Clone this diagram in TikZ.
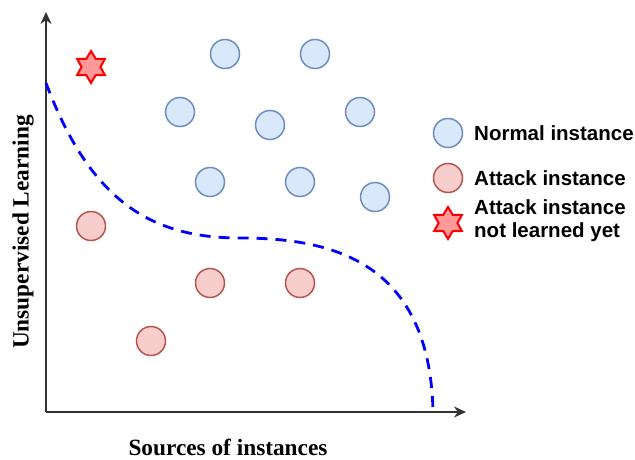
\documentclass[tikz,border=0pt]{standalone}
\usepackage{fontspec}
\setmainfont{Liberation Serif}
\newfontfamily\legfont{Liberation Sans}
\usetikzlibrary{shapes.geometric,arrows.meta}
\definecolor{nfill}{HTML}{DAE8FC}
\definecolor{nline}{HTML}{6C8EBF}
\definecolor{afill}{HTML}{F8CECC}
\definecolor{aline}{HTML}{B85450}
\definecolor{sfill}{HTML}{FF9999}
\definecolor{sline}{HTML}{FF0000}
\definecolor{axcol}{HTML}{333333}
\tikzset{
  normal/.style={circle,draw=nline,fill=nfill,line width=1.5pt,minimum size=29pt,inner sep=0pt},
  attack/.style={circle,draw=aline,fill=afill,line width=1.5pt,minimum size=29pt,inner sep=0pt},
  newattack/.style={star,star points=6,star point ratio=1.7,draw=sline,fill=sfill,line width=2pt,minimum size=32pt,inner sep=0pt},
  axisline/.style={draw=axcol,line width=1.8pt,-{Stealth[length=12pt,width=11pt]}},
  legtext/.style={font=\legfont\bfseries\fontsize{20.5}{23}\selectfont,anchor=west,align=left,inner sep=0pt},
  axlabel/.style={font=\bfseries\fontsize{23.3}{26}\selectfont,inner sep=0pt},
  boundary/.style={draw=blue,line width=2.8pt,dash pattern=on 11pt off 8pt}
}
\begin{document}
\begin{tikzpicture}[x=1pt,y=-1pt]
\useasboundingbox (0,0) rectangle (635,460);
\coordinate (O) at (46,412);
\coordinate (ytop) at (46,12);
\coordinate (xend) at (466,412);
\draw[axisline] (O) -- (ytop);
\draw[axisline] (O) -- (xend);
% boundary
\coordinate (b0) at (46,83);
\coordinate (b1) at (240,238);
\coordinate (b2) at (433,412);
\draw[boundary] (b0) .. controls (90,200) and (150,238) .. (b1)
  .. controls (330,238) and (430,260) .. (b2);
% normal instances
\node[normal] (n1) at (225,54) {};
\node[normal] (n2) at (315,54) {};
\node[normal] (n3) at (180,112) {};
\node[normal] (n4) at (270,125) {};
\node[normal] (n5) at (360,112) {};
\node[normal] (n6) at (210,182) {};
\node[normal] (n7) at (300,182) {};
\node[normal] (n8) at (375,197) {};
% attack instances
\node[attack] (a1) at (91,226) {};
\node[attack] (a2) at (210,283) {};
\node[attack] (a3) at (300,283) {};
\node[attack] (a4) at (151,341) {};
% new attack
\node[newattack] (s1) at (91,67) {};
% legend
\node[normal] (ln) at (448,133) {};
\node[attack] (la) at (448,178) {};
\node[newattack] (ls) at (448,223) {};
\node[legtext] (tn) at (474,133) {Normal instance};
\node[legtext] (ta) at (474,178) {Attack instance};
\node[legtext] (ts) at (474,221) {Attack instance\\not learned yet};
% axis labels
\node[axlabel] (xl) at (228,447) {Sources of instances};
\node[axlabel,rotate=90] (yl) at (23,232) {Unsupervised Learning};
\end{tikzpicture}
\end{document}
